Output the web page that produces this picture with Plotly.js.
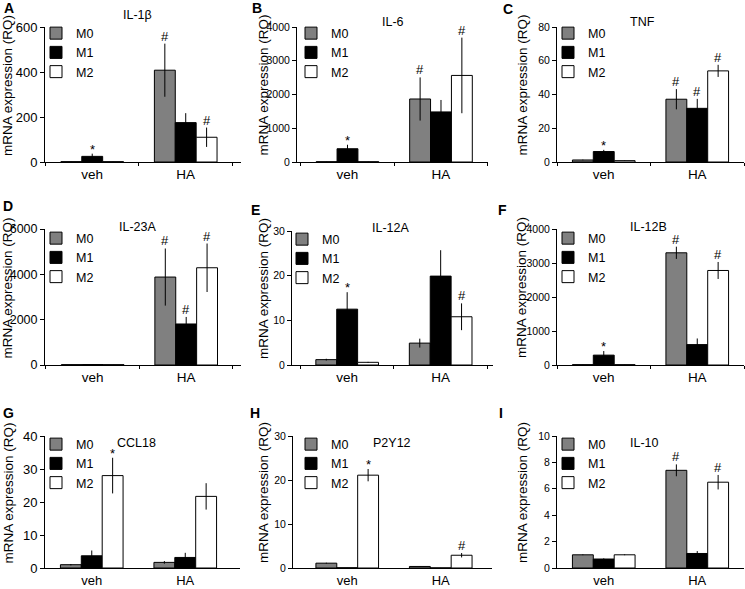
<!DOCTYPE html>
<html>
<head>
<meta charset="utf-8">
<script src="https://cdn.plot.ly/plotly-3.0.1.min.js"></script>
<style>html,body{margin:0;padding:0;background:#fff}#chart{width:745px;height:589px}</style>
</head>
<body>
<div id="chart"></div>
<script>
// ---- data ----
const groups = ['veh', 'HA'];
const series = ['M0', 'M1', 'M2'];
const genes = ['IL-1β', 'IL-6', 'TNF', 'IL-23A', 'IL-12A', 'IL-12B', 'CCL18', 'P2Y12', 'IL-10'];
const letters = ['A', 'B', 'C', 'D', 'E', 'F', 'G', 'H', 'I'];
const yMax = [600, 4000, 80, 6000, 30, 4000, 40, 30, 10];
const yStep = [200, 1000, 20, 2000, 10, 1000, 10, 10, 2];

// order: veh M0, veh M1, veh M2, HA M0, HA M1, HA M2
const IL1B_MEAN = [1.5, 25, 1.5, 408, 175, 110];
const IL1B_ERR  = [0.5, 12, 0.5, 118, 42, 43];
const IL1B_SIG  = ['', '*', '', '#', '', '#'];
const IL6_MEAN = [8, 393, 8, 1867, 1484, 2565];
const IL6_ERR  = [3, 118, 3, 640, 354, 1120];
const IL6_SIG  = ['', '*', '', '#', '', '#'];
const TNF_MEAN = [1.2, 6.2, 0.8, 37.2, 31.8, 54];
const TNF_ERR  = [0.2, 1.0, 0.1, 6, 5.6, 3.6];
const TNF_SIG  = ['', '*', '', '#', '#', '#'];
const IL23A_MEAN = [15, 20, 15, 3880, 1810, 4290];
const IL23A_ERR  = [3, 5, 3, 1260, 310, 1070];
const IL23A_SIG  = ['', '', '', '#', '#', '#'];
const IL12A_MEAN = [1.2, 12.5, 0.6, 4.9, 19.9, 10.8];
const IL12A_ERR  = [0.2, 3.8, 0.1, 1.0, 5.8, 3.0];
const IL12A_SIG  = ['', '*', '', '', '', '#'];
const IL12B_MEAN = [10, 290, 10, 3300, 600, 2780];
const IL12B_ERR  = [3, 120, 3, 180, 180, 250];
const IL12B_SIG  = ['', '*', '', '#', '', '#'];
const CCL18_MEAN = [1, 3.7, 28, 1.7, 3.2, 21.7];
const CCL18_ERR  = [0.2, 1.6, 5.4, 0.4, 1.4, 4];
const CCL18_SIG  = ['', '', '*', '', '', ''];
const P2Y12_MEAN = [1.1, 0.05, 21.1, 0.35, 0.02, 2.9];
const P2Y12_ERR  = [0.1, 0.01, 1.4, 0.05, 0.01, 0.5];
const P2Y12_SIG  = ['', '', '*', '', '', '#'];
const IL10_MEAN = [1.0, 0.68, 1.0, 7.4, 1.1, 6.5];
const IL10_ERR  = [0.03, 0.05, 0.03, 0.45, 0.18, 0.55];
const IL10_SIG  = ['', '', '', '#', '', '#'];

const MEANS = [IL1B_MEAN, IL6_MEAN, TNF_MEAN, IL23A_MEAN, IL12A_MEAN, IL12B_MEAN, CCL18_MEAN, P2Y12_MEAN, IL10_MEAN];
const ERRS = [IL1B_ERR, IL6_ERR, TNF_ERR, IL23A_ERR, IL12A_ERR, IL12B_ERR, CCL18_ERR, P2Y12_ERR, IL10_ERR];
const SIGS = [IL1B_SIG, IL6_SIG, TNF_SIG, IL23A_SIG, IL12A_SIG, IL12B_SIG, CCL18_SIG, P2Y12_SIG, IL10_SIG];

// ---- styling / geometry ----
const W = 745, H = 589;
const FONT = 'Liberation Sans, Arial, sans-serif';
const colors = ['#808080', '#000000', '#ffffff'];
const UNIT = 93.5; // px per category
const BARGAP = 0.33;
const geom = [
  {l: 45, r: 241, lo: -0.505, t: 27, b: 162, tx: 137, ty: 15, lx: 9, ly: 8, yt: 7.5, lg: 56, lgy: 32, tf: 13, xtl: 3, xf: 13.5},
  {l: 297, r: 488, lo: -0.54, t: 27, b: 162, tx: 393, ty: 22, lx: 257, ly: 8, yt: 263, lg: 311, lgy: 32, tf: 10.5, xtl: 3, xf: 13.5},
  {l: 557, r: 744, lo: -0.5, t: 27, b: 162, tx: 642, ty: 22, lx: 508, ly: 9, yt: 522, lg: 568, lgy: 32, tf: 10.5, xtl: 3, xf: 13.5},
  {l: 45, r: 241, lo: -0.51, t: 229, b: 365, tx: 137, ty: 227, lx: 8, ly: 206, yt: 7.5, lg: 56, lgy: 237, tf: 12.5, xtl: 3, xf: 13.5},
  {l: 292, r: 493, lo: -0.59, t: 231, b: 365, tx: 390, ty: 228, lx: 255, ly: 210, yt: 263, lg: 302, lgy: 238, tf: 10.5, xtl: 3, xf: 13.5},
  {l: 557, r: 744, lo: -0.5, t: 229, b: 365, tx: 648, ty: 227, lx: 502, ly: 210, yt: 522, lg: 568, lgy: 237, tf: 10.5, xtl: 3, xf: 13.5},
  {l: 45, r: 240, lo: -0.5, t: 436, b: 568, tx: 136, ty: 443, lx: 8, ly: 413, yt: 7.5, lg: 56, lgy: 443, tf: 13, xtl: 0, xf: 13},
  {l: 293, r: 492, lo: -0.58, t: 436, b: 568, tx: 392, ty: 443, lx: 255, ly: 413, yt: 263, lg: 311, lgy: 443, tf: 10.5, xtl: 0, xf: 13},
  {l: 557, r: 744, lo: -0.5, t: 436, b: 568, tx: 644, ty: 443, lx: 501, ly: 413, yt: 522, lg: 568, lgy: 443, tf: 10.5, xtl: 0, xf: 13}
];
const fx = p => p / W;
const fy = p => 1 - p / H;

const traces = [];
const layout = {
  width: W, height: H,
  margin: {l: 0, r: 0, t: 0, b: 0},
  paper_bgcolor: '#fff', plot_bgcolor: 'rgba(0,0,0,0)',
  font: {family: FONT, color: '#000', size: 13},
  barmode: 'group', bargap: BARGAP, bargroupgap: 0,
  annotations: [], showlegend: true
};

const bw = (1 - BARGAP) / series.length;

genes.forEach((gene, p) => {
  const g = geom[p];
  const n = p + 1;
  const xa = 'xaxis' + (n === 1 ? '' : n), ya = 'yaxis' + (n === 1 ? '' : n);
  const xr = 'x' + (n === 1 ? '' : n), yr = 'y' + (n === 1 ? '' : n);
  const lgName = 'legend' + (n === 1 ? '' : n);
  series.forEach((s, si) => {
    traces.push({
      type: 'bar', name: s, x: groups,
      y: groups.map((_, gi) => MEANS[p][gi * 3 + si]),
      error_y: {type: 'data', array: groups.map((_, gi) => ERRS[p][gi * 3 + si]), visible: true, color: '#000', thickness: 1, width: 0},
      marker: {color: colors[si], line: {color: '#000', width: 1}},
      xaxis: xr, yaxis: yr, legend: lgName, showlegend: true, hoverinfo: 'skip'
    });
    groups.forEach((grp, gi) => {
      const mark = SIGS[p][gi * 3 + si];
      if (!mark) return;
      layout.annotations.push({
        xref: xr, yref: yr, x: gi + (si - 1) * bw,
        y: MEANS[p][gi * 3 + si] + ERRS[p][gi * 3 + si],
        text: mark, showarrow: false, yanchor: 'bottom', xanchor: 'center',
        yshift: mark === '*' ? -5 : -2,
        font: {family: FONT, size: 13, color: '#000'}
      });
    });
  });
  layout[xa] = {
    domain: [fx(g.l), fx(g.r)], anchor: yr, type: 'category', categoryarray: groups,
    range: [g.lo, g.lo + (g.r - g.l) / UNIT], showline: true, linecolor: '#000', linewidth: 1,
    ticks: 'outside', tickson: 'boundaries', ticklen: g.xtl, tickcolor: '#000', showgrid: false, zeroline: false,
    tickfont: {family: FONT, size: g.xf, color: '#000'}, fixedrange: true
  };
  layout[ya] = {
    domain: [fy(g.b), fy(g.t)], anchor: xr, range: [0, yMax[p]], dtick: yStep[p], tick0: 0,
    showline: true, linecolor: '#000', linewidth: 1, ticks: 'outside', ticklen: 4, tickcolor: '#000',
    showgrid: false, zeroline: false, tickfont: {family: FONT, size: g.tf, color: '#000'}, fixedrange: true
  };
  layout[lgName] = {
    x: fx(g.lg - 20), xanchor: 'left', y: fy(g.lgy - 13.5), yanchor: 'top',
    bgcolor: 'rgba(0,0,0,0)', borderwidth: 0, tracegroupgap: 0,
    font: {family: FONT, size: 12.5, color: '#000'}
  };
  // gene title
  layout.annotations.push({xref: 'paper', yref: 'paper', x: fx(g.tx), y: fy(g.ty), text: gene,
    showarrow: false, xanchor: 'center', yanchor: 'middle', font: {family: FONT, size: 12.5, color: '#000'}});
  // panel letter
  layout.annotations.push({xref: 'paper', yref: 'paper', x: fx(g.lx), y: fy(g.ly), text: '<b>' + letters[p] + '</b>',
    showarrow: false, xanchor: 'center', yanchor: 'middle', font: {family: FONT, size: 14, color: '#000'}});
  // y axis title
  layout.annotations.push({xref: 'paper', yref: 'paper', x: fx(g.yt), y: fy((g.t + g.b) / 2 - 9), text: 'mRNA expression (RQ)',
    textangle: -90, showarrow: false, xanchor: 'center', yanchor: 'middle', font: {family: FONT, size: 13.5, color: '#000'}});
});

Plotly.newPlot('chart', traces, layout, {staticPlot: true, displayModeBar: false});
</script>
</body>
</html>
